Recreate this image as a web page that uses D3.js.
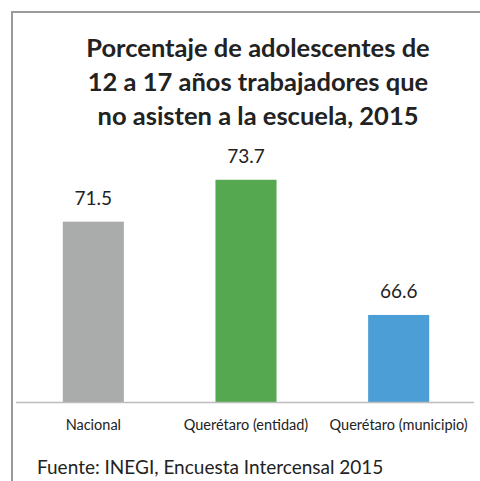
<!DOCTYPE html>
<html>
<head>
<meta charset="utf-8">
<script src="https://cdn.jsdelivr.net/npm/d3@7"></script>
<style>
  body { margin: 0; background: #fff; }
  text { font-family: Lato, "Open Sans", sans-serif; fill: #222; }
</style>
</head>
<body>
<svg id="chart" width="480" height="481"></svg>
<script>
// data
const categories = ['Nacional', 'Querétaro (entidad)', 'Querétaro (municipio)'];
const values = [71.5, 73.7, 66.6];
const barColors = ['#a9acaa', '#55a84f', '#4b9fd6'];
const titleLines = ['Porcentaje de adolescentes de', '12 a 17 años trabajadores que', 'no asisten a la escuela, 2015'];
const sourceNote = 'Fuente: INEGI, Encuesta Intercensal 2015';

const svg = d3.select('#chart');

// frame (top + left edge only, like the scanned box)
svg.append('line').attr('x1', 11).attr('x2', 480).attr('y1', 12).attr('y2', 12)
  .attr('stroke', '#9a9a9a').attr('stroke-width', 2);
svg.append('line').attr('x1', 12).attr('x2', 12).attr('y1', 11).attr('y2', 481)
  .attr('stroke', '#9a9a9a').attr('stroke-width', 2);

// title
svg.append('text')
  .attr('x', 258).attr('text-anchor', 'middle')
  .style('font-weight', 'bold').style('font-size', '25.5px')
  .selectAll('tspan')
  .data(titleLines)
  .enter().append('tspan')
  .attr('x', 258)
  .attr('y', (d, i) => 57 + i * 34)
  .text(d => d);

const x = d3.scaleBand().domain(categories).range([17, 475]).paddingInner(0.6).paddingOuter(0.3);
const y = d3.scaleLinear().domain([62, 76]).range([402.5, 136]);

svg.selectAll('rect.bar')
  .data(values)
  .enter().append('rect')
  .attr('class', 'bar')
  .attr('x', (d, i) => x(categories[i]))
  .attr('width', x.bandwidth())
  .attr('y', d => y(d))
  .attr('height', d => y(62) - y(d))
  .attr('fill', (d, i) => barColors[i]);

svg.selectAll('text.val')
  .data(values)
  .enter().append('text')
  .attr('class', 'val')
  .attr('x', (d, i) => x(categories[i]) + x.bandwidth() / 2)
  .attr('y', d => y(d) - 17)
  .attr('text-anchor', 'middle')
  .style('font-size', '19px')
  .text(d => d.toFixed(1));

// category axis
const xAxis = svg.append('g')
  .attr('transform', 'translate(0,' + y(62) + ')')
  .call(d3.axisBottom(x).tickSize(0).tickPadding(17));
xAxis.select('.domain').attr('stroke', '#bdbdbd').attr('stroke-width', 1.5)
  .attr('d', 'M16,0H474');
xAxis.selectAll('text').style('font-size', '14.5px').style('font-family', 'Lato, sans-serif').attr('fill', '#222');

svg.append('text')
  .attr('x', 37).attr('y', 474)
  .style('font-size', '19px')
  .text(sourceNote);
</script>
</body>
</html>
